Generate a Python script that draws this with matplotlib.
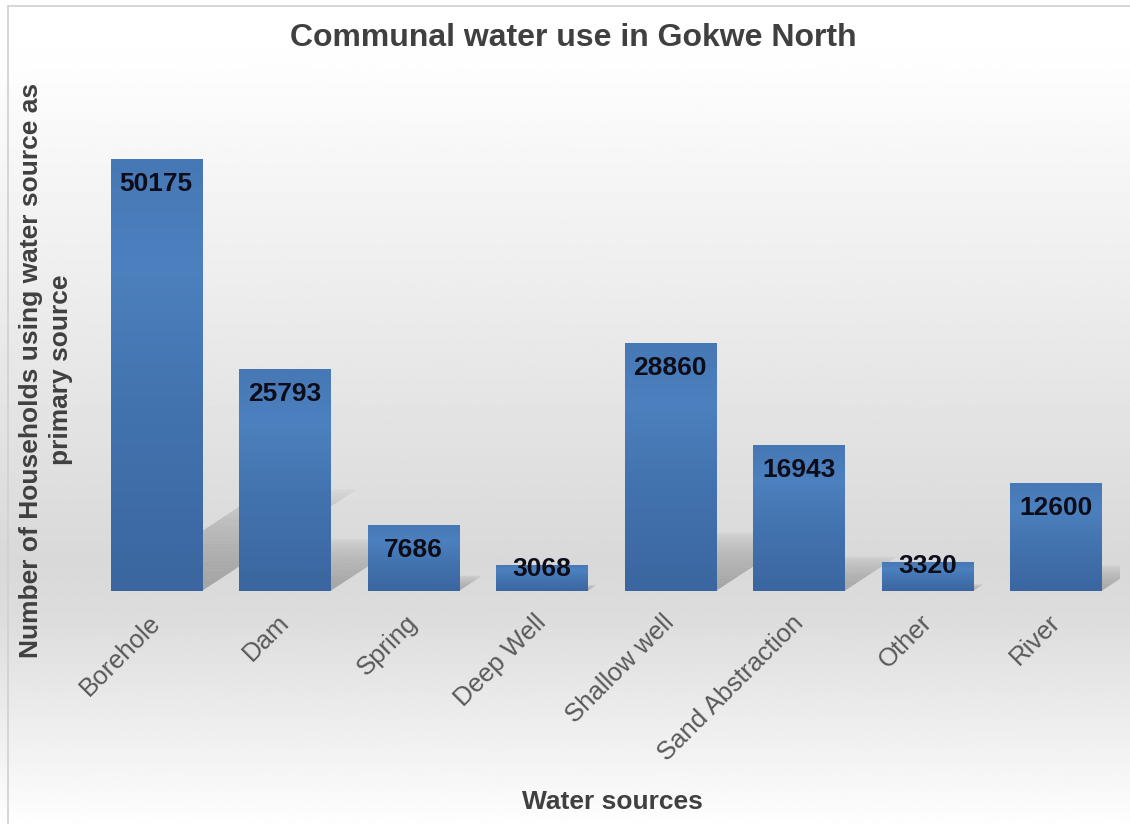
import numpy as np
import matplotlib
matplotlib.use("Agg")
import matplotlib.pyplot as plt
from matplotlib.patches import Polygon
from matplotlib.colors import LinearSegmentedColormap
from matplotlib.transforms import ScaledTranslation

categories = ["Borehole", "Dam", "Spring", "Deep Well", "Shallow well",
              "Sand Abstraction", "Other", "River"]
households = [50175, 25793, 7686, 3068, 28860, 16943, 3320, 12600]

title = "Communal water use in Gokwe North"
ylabel = "Number of Households using water source as\nprimary source"
xlabel = "Water sources"

plt.rcParams['font.family'] = ['Liberation Sans', 'DejaVu Sans']

W, H = 1130, 824
fig = plt.figure(figsize=(W / 100, H / 100), dpi=100)

# figure background gradient
bg = fig.add_axes([0, 0, 1, 1], zorder=-10)
bg.set_axis_off()
ys = np.linspace(0, 1, 400)  # 0 = bottom
pts_y = [0, 60, 560, 620, 824]
pts_v = [1.0, 0.995, 0.85, 0.865, 0.995]
col = np.interp((1 - ys) * H, pts_y, pts_v)
img = np.repeat(col[:, None], 2, axis=1)
bg.imshow(img, cmap='gray', vmin=0, vmax=1, aspect='auto', origin='lower',
          extent=[0, 1, 0, 1])
bg.set_xlim(0, 1); bg.set_ylim(0, 1)
bg.plot([8 / W, 8 / W], [0, 1 - 6 / H], color='#d0d0d0', lw=1.2)
bg.plot([8 / W, 1], [1 - 6 / H, 1 - 6 / H], color='#d0d0d0', lw=1.2)

left, right = 92 / W, 1120 / W
bottom, top = 1 - 591 / H, 1 - 75 / H
ax = fig.add_axes([left, bottom, right - left, top - bottom])
ax.patch.set_alpha(0)
ymax = 60000
ax.set_xlim(-0.5, len(categories) - 0.5)
ax.set_ylim(0, ymax)
for s in ax.spines.values():
    s.set_visible(False)
ax.tick_params(axis='y', left=False, labelleft=False)
ax.tick_params(axis='x', bottom=False, length=0, pad=14)

x = np.arange(len(categories))
width = 0.71

# shadows (projected toward upper right, fading)
sx, sy = 0.0000240, 0.235
N = 30
for i, v in enumerate(households):
    x0 = i - width / 2
    x1 = i + width / 2
    dx = v * sx
    dy = v * sy
    for k in range(N):
        t0, t1 = k / N, (k + 1) / N
        poly = [(x0 + dx * t0, dy * t0), (x1 + dx * t0, dy * t0),
                (x1 + dx * t1, dy * t1), (x0 + dx * t1, dy * t1)]
        a = 0.40 * (1 - t0) ** 0.6
        ax.add_patch(Polygon(poly, closed=True, facecolor='#505050',
                             edgecolor='none', alpha=a, zorder=1))

bars = ax.bar(x, households, width=width, color='#4a7ab5', edgecolor='none',
              zorder=2)

bar_cmap = LinearSegmentedColormap.from_list(
    'barg', [(0.0, '#3b66a0'), (0.45, '#4374b0'), (0.75, '#4c80be'),
             (1.0, '#4778b6')])
grad = np.linspace(0, 1, 256)[:, None]
for b in bars:
    bx, bw, bh = b.get_x(), b.get_width(), b.get_height()
    im = ax.imshow(grad, cmap=bar_cmap, aspect='auto', origin='lower',
                   extent=[bx, bx + bw, 0, bh], zorder=3)
    im.set_clip_path(b)

px_per_unit = (591 - 75) / ymax
for i, v in enumerate(households):
    h_px = v * px_per_unit
    off_px = 25 if h_px > 50 else 4
    ax.annotate(f"{v}", xy=(i, v), xytext=(0, -off_px * 0.72),
                textcoords='offset points', ha='center', va='center',
                fontsize=19, fontweight='bold', color='#0d0d1a', zorder=5)

ax.set_xticks(x)
ax.set_xticklabels(categories, rotation=45, ha='right', rotation_mode='anchor',
                   fontsize=18.5, color='#595959')
shift = ScaledTranslation(-8 / 100, 0, fig.dpi_scale_trans)
for lbl in ax.get_xticklabels():
    lbl.set_transform(lbl.get_transform() + shift)

fig.text(573 / W, 1 - 38 / H, title, ha='center', va='center', fontsize=23,
         fontweight='bold', color='#404040')
fig.text(46 / W, 1 - 370 / H, ylabel, ha='center', va='center', rotation=90,
         fontsize=19, fontweight='bold', color='#404040', linespacing=1.3)
fig.text(612 / W, 1 - 802 / H, xlabel, ha='center', va='center', fontsize=19,
         fontweight='bold', color='#404040')

fig.savefig('out.png', dpi=100)
